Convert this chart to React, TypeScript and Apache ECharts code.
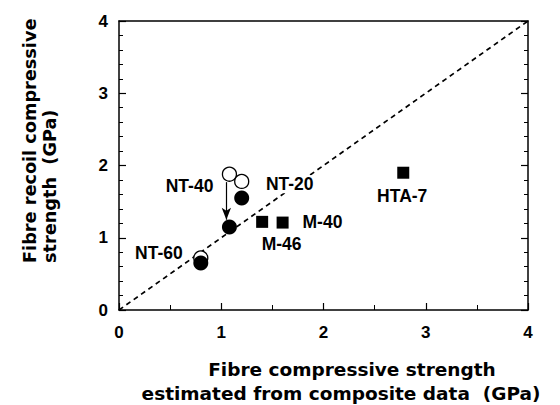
import React, { useEffect, useRef } from "react";
import * as echarts from "echarts";

const openX = [1.08, 1.2, 0.8];
const openY = [1.88, 1.78, 0.72];
const filledX = [1.2, 1.08, 0.8];
const filledY = [1.55, 1.15, 0.65];
const squareX = [1.4, 1.6, 2.78];
const squareY = [1.22, 1.21, 1.9];
const labelNames = ["NT-40", "NT-20", "NT-60", "M-40", "M-46", "HTA-7"];
const labelX = [0.69, 1.67, 0.39, 1.99, 1.59, 2.77];
const labelY = [1.72, 1.74, 0.79, 1.22, 0.91, 1.58];
const arrowFrom = [1.05, 1.77];
const arrowTo = [1.05, 1.25];
const diagonal = [[0, 0], [4, 4]];
const xTitle = ["Fibre compressive strength", "estimated from composite data  (GPa)"];
const yTitle = ["Fibre recoil compressive", "strength  (GPa)"];

const zip = (a: number[], b: number[]) => a.map((v, i) => [v, b[i]]);

export default function App() {
  const ref = useRef<HTMLDivElement>(null);
  useEffect(() => {
    document.body.style.margin = "0";
    const chart = echarts.init(ref.current!, null, { renderer: "svg" });
    const tickFont = { fontFamily: "Liberation Sans", fontWeight: "bold" as const, fontSize: 17, color: "#000" };
    const axisCommon = {
      min: 0,
      max: 4,
      interval: 1,
      splitLine: { show: false },
      minorSplitLine: { show: false },
      axisLine: { show: true, onZero: false, lineStyle: { color: "#000", width: 1.5 } },
    };
    chart.setOption({
      animation: false,
      grid: { left: 119, right: 32, top: 21, bottom: 95 },
      xAxis: [
        {
          ...axisCommon,
          type: "value",
          position: "bottom",
          axisTick: { show: true, inside: true, length: 7, lineStyle: { color: "#000", width: 1.2 } },
          minorTick: { show: true, splitNumber: 2, length: 5, lineStyle: { color: "#000", width: 1 } },
          axisLabel: { ...tickFont, margin: 14 },
        },
        {
          ...axisCommon,
          type: "value",
          position: "top",
          axisTick: { show: false },
          axisLabel: { show: false },
        },
      ],
      yAxis: [
        {
          ...axisCommon,
          type: "value",
          position: "left",
          axisTick: { show: true, inside: true, length: 7, lineStyle: { color: "#000", width: 1.2 } },
          minorTick: { show: true, splitNumber: 5, length: 4, lineStyle: { color: "#000", width: 1 } },
          axisLabel: { ...tickFont, margin: 11 },
        },
        {
          ...axisCommon,
          type: "value",
          position: "right",
          axisTick: { show: true, inside: true, length: 7, lineStyle: { color: "#000", width: 1.2 } },
          minorTick: { show: true, splitNumber: 5, length: 4, lineStyle: { color: "#000", width: 1 } },
          axisLabel: { show: false },
        },
      ],
      graphic: [
        {
          type: "text",
          x: 352,
          y: 369,
          style: { text: xTitle[0], font: "bold 18.5px 'DejaVu Sans'", fill: "#000", textAlign: "center", textVerticalAlign: "middle" },
        },
        {
          type: "text",
          x: 341,
          y: 393,
          style: { text: xTitle[1], font: "bold 18.5px 'DejaVu Sans'", fill: "#000", textAlign: "center", textVerticalAlign: "middle" },
        },
        {
          type: "text",
          x: 30,
          y: 263,
          rotation: Math.PI / 2,
          style: { text: yTitle[0], font: "bold 17.7px 'DejaVu Sans'", fill: "#000", textAlign: "left", textVerticalAlign: "middle" },
        },
        {
          type: "text",
          x: 50,
          y: 263,
          rotation: Math.PI / 2,
          style: { text: yTitle[1], font: "bold 17.7px 'DejaVu Sans'", fill: "#000", textAlign: "left", textVerticalAlign: "middle" },
        },
      ],
      series: [
        {
          type: "line",
          data: diagonal,
          symbol: "none",
          lineStyle: { color: "#000", width: 1.7, type: [5, 4] },
          z: 1,
        },
        {
          type: "scatter",
          data: zip(openX, openY),
          symbol: "circle",
          symbolSize: 14,
          itemStyle: { color: "#fff", borderColor: "#000", borderWidth: 1.3, opacity: 1 },
          z: 2,
          markLine: {
            silent: true,
            symbol: ["none", "arrow"],
            symbolSize: [7, 12],
            label: { show: false },
            lineStyle: { color: "#000", width: 1.2, type: "solid", opacity: 1 },
            data: [[{ coord: arrowFrom }, { coord: arrowTo }]],
          },
        },
        {
          type: "scatter",
          data: zip(filledX, filledY),
          symbol: "circle",
          symbolSize: 15,
          itemStyle: { color: "#000", opacity: 1 },
          z: 3,
        },
        {
          type: "scatter",
          data: zip(squareX, squareY),
          symbol: "rect",
          symbolSize: 12,
          itemStyle: { color: "#000", opacity: 1 },
          z: 3,
        },
        {
          type: "scatter",
          data: labelNames.map((n, i) => ({ value: [labelX[i], labelY[i]], name: n })),
          symbolSize: 0,
          itemStyle: { opacity: 1 },
          z: 4,
          label: {
            show: true,
            position: "inside",
            formatter: (p: any) => p.name,
            fontFamily: "Liberation Sans",
            fontWeight: "bold",
            fontSize: 17.5,
            color: "#000",
            textBorderWidth: 0,
            backgroundColor: "#fff",
            padding: [0, 2],
          },
        },
      ],
    });
    return () => chart.dispose();
  }, []);
  return <div ref={ref} style={{ width: 560, height: 405 }} />;
}
